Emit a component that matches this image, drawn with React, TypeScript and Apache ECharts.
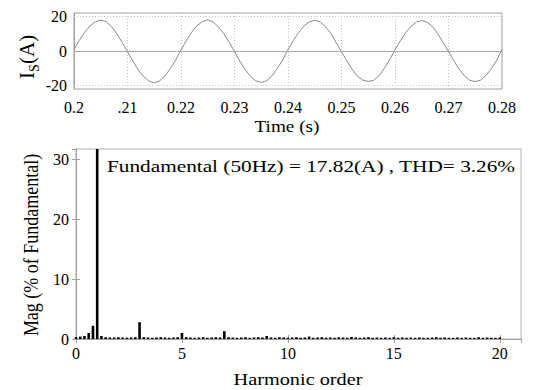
import React, { useEffect, useRef } from "react";
import * as echarts from "echarts";

const FONT = "'Liberation Serif', 'Times New Roman', serif";

// Top plot: source current Is (A), sampled every 1 ms from 0.2 s to 0.28 s
const timeStart = 0.2;
const timeStep = 0.001;
const currentValues = [
  1.0, 6.2, 10.8, 14.6, 16.9, 17.9, 17.0, 14.2, 10.0, 5.0,
  -0.4, -5.8, -10.9, -14.8, -17.4, -18.4, -17.3, -14.5, -10.2, -5.2,
  0.6, 6.0, 10.9, 14.7, 17.0, 18.0, 16.8, 14.0, 10.1, 5.1,
  -0.3, -5.9, -10.8, -14.7, -17.3, -18.2, -17.2, -14.4, -10.0, -5.3,
  0.8, 6.1, 10.7, 14.5, 16.9, 17.8, 16.9, 14.1, 10.2, 4.9,
  -0.5, -5.7, -10.6, -14.6, -16.9, -17.6, -17.0, -14.3, -10.1, -5.0,
  0.7, 5.9, 10.6, 14.4, 16.8, 17.6, 16.7, 14.2, 10.0, 5.0,
  -0.4, -5.6, -10.5, -14.5, -17.0, -17.7, -16.9, -14.2, -10.3, -5.4,
  0.9,
];
const timeTickLabels: Record<number, string> = {
  20: "0.2", 21: ".21", 22: "0.22", 23: "0.23", 24: "0.24",
  25: "0.25", 26: "0.26", 27: "0.27", 28: "0.28",
};
const currentTicks = [-20, 0, 20];

// Bottom plot: harmonic spectrum, 0.2 harmonic resolution from 0 to 20
const harmonicStep = 0.2;
const harmonicMag = [
  0.3, 0.4, 0.5, 1.0, 2.2, 100, 0.5, 0.3, 0.25, 0.25, 0.3, 0.25, 0.2, 0.25, 0.3, 2.8,
  0.3, 0.25, 0.2, 0.25, 0.3, 0.25, 0.2, 0.25, 0.3,
  1.0,
  0.3, 0.25, 0.2, 0.25, 0.3, 0.2, 0.25, 0.3, 0.25,
  1.3,
  0.3, 0.25, 0.2, 0.25, 0.3, 0.2, 0.25, 0.3, 0.25,
  0.5,
  0.25, 0.2, 0.3, 0.25, 0.2, 0.25, 0.3, 0.2, 0.25,
  0.4,
  0.2, 0.25, 0.3, 0.2, 0.25, 0.2, 0.3, 0.25, 0.2,
  0.35,
  0.25, 0.2, 0.25, 0.3, 0.2, 0.25, 0.2, 0.25, 0.2,
  0.3,
  0.2, 0.25, 0.2, 0.25, 0.2, 0.25, 0.2, 0.2, 0.25,
  0.3,
  0.2, 0.25, 0.2, 0.2, 0.25, 0.2, 0.25, 0.2, 0.2,
  0.3,
  0.2, 0.25, 0.2, 0.2, 0.25,
];

const annotation = "Fundamental (50Hz) = 17.82(A) , THD= 3.26%";

export default function App() {
  const ref = useRef<HTMLDivElement>(null);

  useEffect(() => {
    if (!ref.current) return;
    const chart = echarts.init(ref.current, null, { renderer: "svg" });

    const lineData = currentValues.map((v, i) => [
      +(timeStart + i * timeStep).toFixed(4),
      v,
    ]);
    const barData = harmonicMag.map((v, i) => [+(i * harmonicStep).toFixed(2), v]);

    const tickFont = { color: "#000", fontFamily: FONT, fontSize: 16 };
    const boxLine = { lineStyle: { color: "#a0a0a0", width: 1 } };
    const dotted = { color: "#c4c4c4", width: 1, type: [1, 2] as number[] };
    const txt = (text: string, size: number, align: string) => ({
      text, fill: "#000", fontFamily: FONT, fontSize: size, textAlign: align, textVerticalAlign: "middle",
    });

    chart.setOption({
      animation: false,
      backgroundColor: "#fff",
      grid: [
        { left: 74, right: 41, top: 13, height: 76, show: true, borderColor: "#a0a0a0", borderWidth: 1, backgroundColor: "#fff" },
        { left: 76, right: 22, top: 149, height: 190, show: true, borderColor: "#b0b0b0", borderWidth: 1, backgroundColor: "#fff" },
      ],
      xAxis: [
        {
          gridIndex: 0, type: "value", min: 0.2, max: 0.28, interval: 0.01,
          axisLine: { show: true, ...boxLine }, axisTick: { show: false },
          splitLine: { show: true, lineStyle: dotted },
          axisLabel: {
            ...tickFont, margin: 10,
            formatter: (v: number) => timeTickLabels[Math.round(v * 100)] ?? "",
          },
        },
        {
          gridIndex: 1, type: "value", min: 0, max: 21, interval: 5,
          axisLine: { show: true, ...boxLine },
          axisTick: { show: true, inside: true, length: 4, ...boxLine },
          splitLine: { show: false },
          axisLabel: { ...tickFont, margin: 6, showMaxLabel: false },
        },
        {
          gridIndex: 1, type: "value", position: "top", min: 0, max: 21, interval: 5,
          axisLine: { show: true, ...boxLine },
          axisTick: { show: true, inside: true, length: 4, ...boxLine },
          splitLine: { show: false }, axisLabel: { show: false },
        },
      ],
      yAxis: [
        {
          gridIndex: 0, type: "value", min: -22, max: 22, interval: 2,
          axisLine: { show: true, ...boxLine }, axisTick: { show: false },
          splitLine: { show: false },
          axisLabel: {
            ...tickFont, margin: 7,
            formatter: (v: number) => (currentTicks.includes(Math.round(v)) ? String(Math.round(v)) : ""),
          },
        },
        {
          gridIndex: 1, type: "value", min: 0, max: 31.7, interval: 10,
          axisLine: { show: true, ...boxLine },
          axisTick: { show: true, inside: true, length: 4, ...boxLine },
          splitLine: { show: false },
          axisLabel: { ...tickFont, margin: 7, showMaxLabel: false },
        },
        {
          gridIndex: 1, type: "value", position: "right", min: 0, max: 31.7, interval: 10,
          axisLine: { show: true, ...boxLine },
          axisTick: { show: true, inside: true, length: 4, ...boxLine },
          splitLine: { show: false }, axisLabel: { show: false },
        },
      ],
      series: [
        {
          type: "line", xAxisIndex: 0, yAxisIndex: 0, data: lineData,
          showSymbol: false, symbol: "none",
          lineStyle: { color: "#8a8a8a", width: 1 },
          z: 3,
          markLine: {
            silent: true, symbol: ["none", "none"], label: { show: false },
            lineStyle: dotted, animation: false,
            data: currentTicks.map((v) => ({ yAxis: v })),
          },
        },
        {
          type: "bar", xAxisIndex: 1, yAxisIndex: 1, data: barData,
          barWidth: 2.6, clip: true,
          itemStyle: { color: "#000" },
        },
      ],
      graphic: [
        { type: "text", x: 287, y: 127, style: txt("Time (s)", 16, "center"), scaleX: 1.2 },
        { type: "text", x: 298, y: 380, style: txt("Harmonic order", 16, "center"), scaleX: 1.27 },
        { type: "text", x: 107, y: 166, style: txt(annotation, 16, "left"), scaleX: 1.33 },
        {
          type: "text", x: 31, y: 245, rotation: Math.PI / 2,
          style: txt("Mag (% of Fundamental)", 18, "center"), scaleY: 1.15,
        },
        {
          type: "group", x: 27, y: 79, rotation: Math.PI / 2,
          children: [
            { type: "text", x: 0, y: 0, style: txt("I", 21, "left") },
            { type: "text", x: 7, y: 7, style: txt("S", 14, "left") },
            { type: "text", x: 15, y: 0, style: txt("(A)", 21, "left") },
          ],
        },
      ],
    });

    return () => chart.dispose();
  }, []);

  return (
    <div
      ref={ref}
      style={{ position: "fixed", left: 0, top: 0, width: 543, height: 390, background: "#fff" }}
    />
  );
}
